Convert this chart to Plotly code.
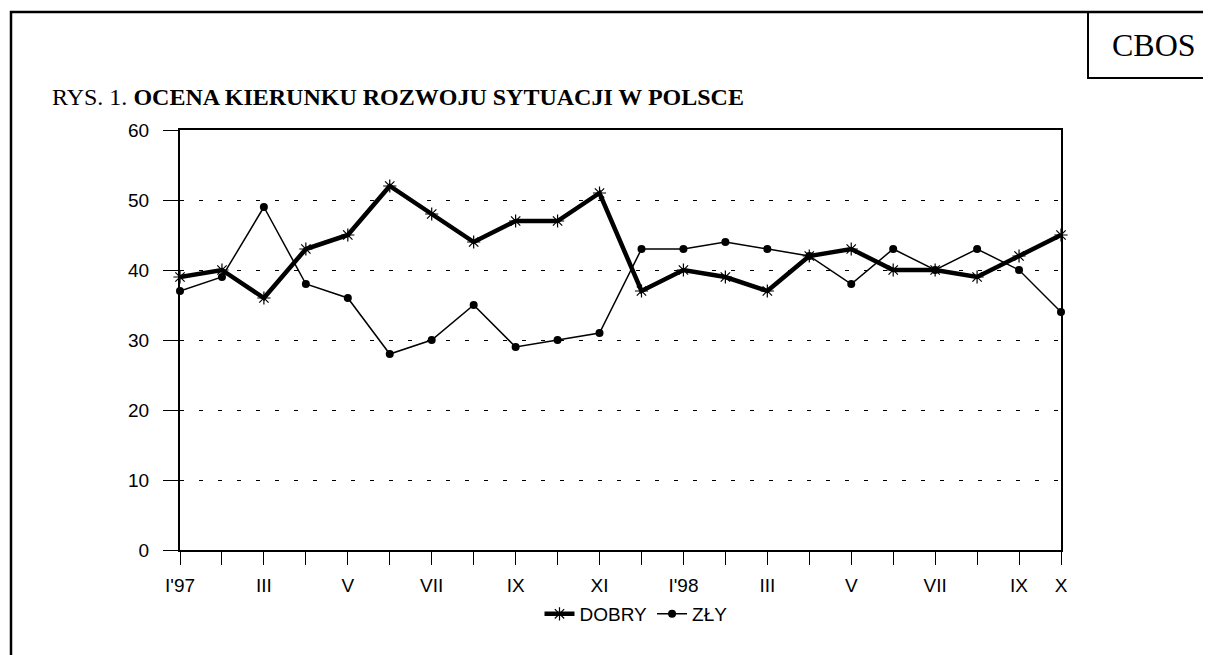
import plotly.graph_objects as go

months = ["I'97", "II", "III", "IV", "V", "VI", "VII", "VIII", "IX", "X", "XI", "XII",
          "I'98", "II", "III", "IV", "V", "VI", "VII", "VIII", "IX", "X"]
tick_labels = ["I'97", "", "III", "", "V", "", "VII", "", "IX", "", "XI", "",
               "I'98", "", "III", "", "V", "", "VII", "", "IX", "X"]
dobry = [39, 40, 36, 43, 45, 52, 48, 44, 47, 47, 51, 37, 40, 39, 37, 42, 43, 40, 40, 39, 42, 45]
zly = [37, 39, 49, 38, 36, 28, 30, 35, 29, 30, 31, 43, 43, 44, 43, 42, 38, 43, 40, 43, 40, 34]

x = list(range(len(months)))

fig = go.Figure()
fig.add_trace(go.Scatter(
    x=x, y=dobry, name="DOBRY", mode="lines+markers",
    line=dict(color="black", width=4.5),
    marker=dict(symbol="asterisk-open", size=11, color="black", line=dict(color="black", width=1.2)),
    cliponaxis=False,
))
fig.add_trace(go.Scatter(
    x=x, y=zly, name="ZŁY", mode="lines+markers",
    line=dict(color="black", width=1.5),
    marker=dict(symbol="circle", size=8, color="black"),
    cliponaxis=False,
))

OFF = 8  # page body offset
L, R, T, B = 180 - OFF, 150, 130 - OFF, 105
W, H = 1211 - OFF, 655 - OFF
pw, ph = W - L - R, H - T - B

def px(v):
    # page pixel x -> paper coordinate
    return (v - OFF - L) / pw

def py(v):
    # page pixel y -> paper coordinate
    return (H - B - (v - OFF)) / ph

fig.update_layout(
    width=W, height=H,
    margin=dict(l=L, r=R, t=T, b=B, pad=0),
    paper_bgcolor="white", plot_bgcolor="white",
    font=dict(family="Liberation Sans, Arial, sans-serif", size=19, color="black"),
    showlegend=True,
    legend=dict(orientation="h", x=px(636), y=py(614), xanchor="center", yanchor="middle",
                font=dict(size=19), itemwidth=30, tracegroupgap=0, bgcolor="rgba(0,0,0,0)"),
    xaxis=dict(range=[0, len(months) - 1], tickmode="array", tickvals=x, ticktext=tick_labels,
               ticks="outside", ticklen=13, tickwidth=1, tickcolor="black",
               showline=True, linecolor="black", linewidth=2, mirror=True,
               showgrid=False, zeroline=False, tickfont=dict(size=19), ticklabelstandoff=4),
    yaxis=dict(range=[0, 60], dtick=10, ticks="outside", ticklen=15, tickwidth=1, tickcolor="black",
               showline=True, linecolor="black", linewidth=2, mirror=True,
               showgrid=True, gridcolor="black", gridwidth=1, griddash="4px,15px",
               zeroline=False, tickfont=dict(size=19), ticklabelstandoff=10),
    shapes=[
        dict(type="rect", xref="paper", yref="paper", x0=px(11), x1=px(1240), y0=py(690), y1=py(12),
             line=dict(color="black", width=2.5), fillcolor="rgba(0,0,0,0)"),
        dict(type="rect", xref="paper", yref="paper", x0=px(1088), x1=px(1240), y0=py(78), y1=py(12),
             line=dict(color="black", width=2), fillcolor="rgba(0,0,0,0)"),
    ],
    annotations=[
        dict(text="CBOS", xref="paper", yref="paper", x=px(1154), y=py(45), xanchor="center", yanchor="middle",
             showarrow=False, font=dict(family="Liberation Serif, Times New Roman, serif", size=32, color="black")),
        dict(text="RYS. 1. <b>OCENA KIERUNKU ROZWOJU SYTUACJI W POLSCE</b>", xref="paper", yref="paper",
             x=px(50), y=py(97), xanchor="left", yanchor="middle", showarrow=False,
             font=dict(family="Liberation Serif, Times New Roman, serif", size=24, color="black")),
    ],
)

fig.write_html("out.html")
